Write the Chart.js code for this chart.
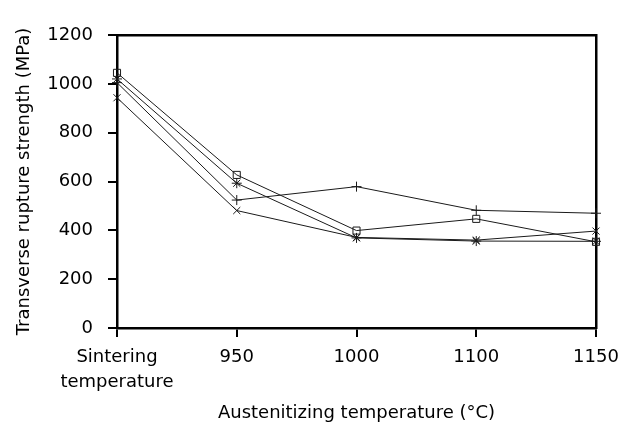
<!DOCTYPE html>
<html>
<head>
<meta charset="utf-8">
<script src="https://cdn.jsdelivr.net/npm/chart.js@4"></script>
<style>
  body { margin: 0; background: #fff; }
  #wrap { width: 630px; height: 428px; position: relative; }
</style>
</head>
<body>
<div id="wrap"><canvas id="chart"></canvas></div>
<script>
// categories along the x axis
const categories = [['Sintering', 'temperature'], '950', '1000', '1100', '1150'];
// transverse rupture strength, MPa
const squareSeries = [1045, 627, 399, 447, 353];
const plusSeries = [1005, 524, 579, 482, 470];
const starSeries = [1020, 593, 369, 356, 355];
const crossSeries = [943, 481, 371, 360, 397];
const yTicks = [0, 200, 400, 600, 800, 1000, 1200];

const font = { family: '"DejaVu Sans", Verdana, sans-serif', size: 18, weight: 'normal', lineHeight: 1.4 };

function series(label, data, style) {
  return {
    label: label,
    data: data,
    borderColor: '#1a1a1a',
    borderWidth: 1,
    pointStyle: style,
    pointRadius: 5,
    pointBorderColor: '#1a1a1a',
    pointBorderWidth: 1,
    pointBackgroundColor: 'rgba(0,0,0,0)',
    fill: false,
    tension: 0
  };
}

const ctx = document.getElementById('chart').getContext('2d');
new Chart(ctx, {
  type: 'line',
  data: {
    labels: categories,
    datasets: [
      series('A', squareSeries, 'rect'),
      series('B', plusSeries, 'cross'),
      series('C', starSeries, 'star'),
      series('D', crossSeries, 'crossRot')
    ]
  },
  options: {
    responsive: true,
    maintainAspectRatio: false,
    animation: false,
    layout: { padding: 0 },
    plugins: {
      legend: { display: false },
      tooltip: { enabled: false }
    },
    scales: {
      x: {
        type: 'category',
        position: 'bottom',
        offset: false,
        grid: { display: true, drawOnChartArea: false, color: '#000', lineWidth: 2, tickLength: 9 },
        border: { display: true, color: '#000', width: 2.5 },
        ticks: { color: '#000', font: font, maxRotation: 0, autoSkip: false, padding: 8 },
        title: {
          display: true,
          text: 'Austenitizing temperature (\u00B0C)',
          color: '#000',
          font: font,
          padding: { top: 0, bottom: 2 }
        },
        afterFit: function (scale) { scale.height = 100; }
      },
      xTop: {
        type: 'category',
        position: 'top',
        offset: false,
        grid: { display: false },
        border: { display: true, color: '#000', width: 2.5 },
        ticks: { display: false },
        afterFit: function (scale) { scale.height = 35; }
      },
      y: {
        position: 'left',
        min: 0,
        max: 1200,
        afterBuildTicks: function (scale) {
          scale.ticks = yTicks.map(v => ({ value: v }));
        },
        grid: { display: true, drawOnChartArea: false, color: '#000', lineWidth: 2, tickLength: 9 },
        border: { display: true, color: '#000', width: 2.5 },
        ticks: { color: '#000', font: font, padding: 15, callback: v => String(v) },
        title: {
          display: true,
          text: 'Transverse rupture strength (MPa)',
          color: '#000',
          font: font,
          padding: { top: 12, bottom: 0 }
        },
        afterFit: function (scale) { scale.width = 117; }
      },
      yRight: {
        position: 'right',
        min: 0,
        max: 1200,
        grid: { display: false },
        border: { display: true, color: '#000', width: 2.5 },
        ticks: { display: false },
        afterFit: function (scale) { scale.width = 34; }
      }
    }
  }
});
</script>
</body>
</html>
